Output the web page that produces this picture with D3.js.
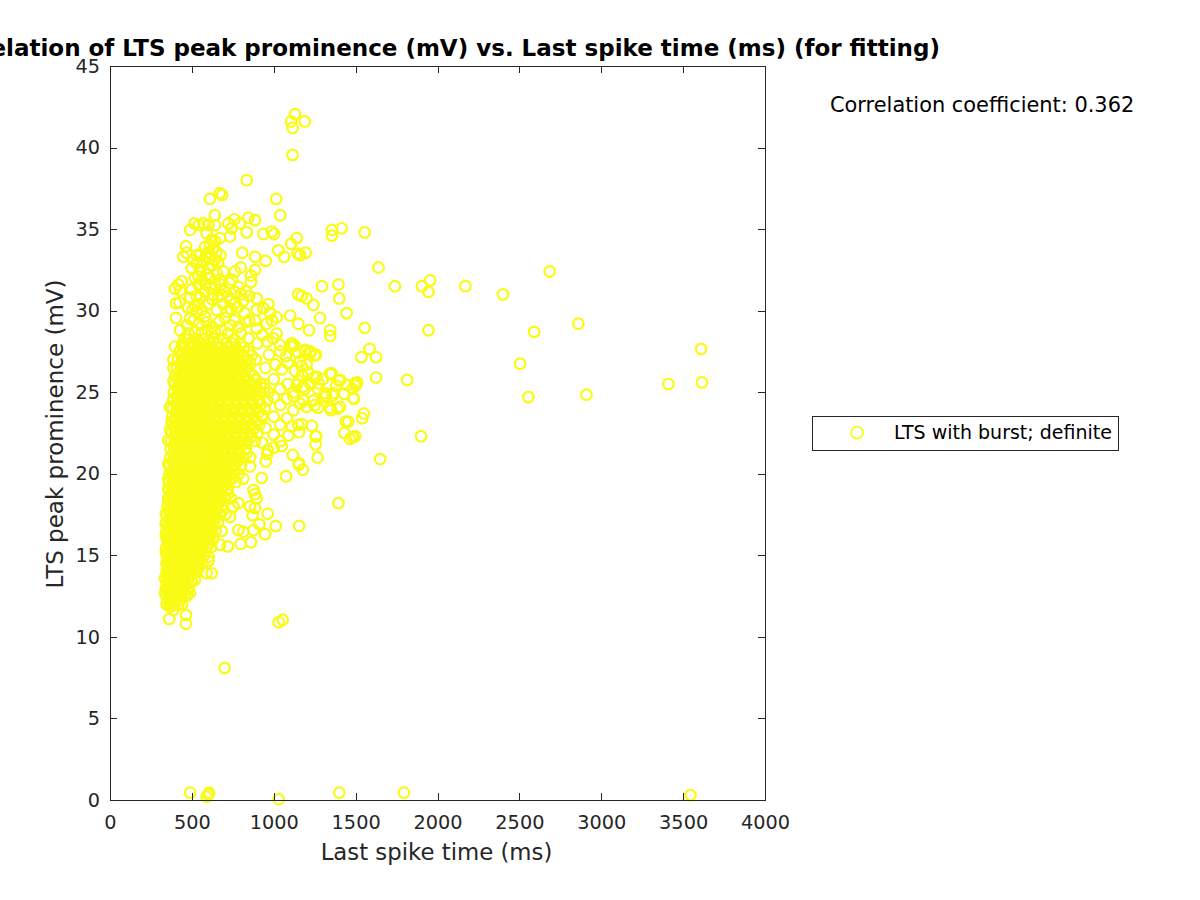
<!DOCTYPE html>
<html><head><meta charset="utf-8">
<script src="https://cdn.jsdelivr.net/npm/d3@7/dist/d3.min.js"></script>
<style>html,body{margin:0;padding:0;background:#fff}svg{display:block}text{font-family:"DejaVu Sans",sans-serif}</style>
</head><body><div id="chart"></div>
<script>
const titleText = "Correlation of LTS peak prominence (mV) vs. Last spike time (ms) (for fitting)";
const xLabel = "Last spike time (ms)";
const yLabel = "LTS peak prominence (mV)";
const corrText = "Correlation coefficient: 0.362";
const legendText = "LTS with burst; definite";
const xTicks = [0,500,1000,1500,2000,2500,3000,3500,4000];
const yTicks = [0,5,10,15,20,25,30,35,40,45];

const baselinePoints = [[490,.45],[590,.2],[600,.35],[605,.45],[1030,.05],[1400,.45],[1795,.45],[3545,.3],[700,8.1],[1030,10.9],[1055,11.05]];
const farPoints = [[3610,27.65],[3615,25.6],[3410,25.5],[2910,24.85],[2860,29.2],[2685,32.4],[2590,28.7],[2555,24.7],[2505,26.75],[2400,31],[2170,31.5],[1955,31.85],[1905,31.5],[1945,31.15],[1945,28.8],[1900,22.3],[1815,25.75],[1740,31.5],[1640,32.65],[1625,27.15],[1585,27.65],[1625,25.9],[1650,20.9],[1555,34.8],[1415,35.05],[1355,34.95],[1355,34.6],[1395,31.6],[1400,30.75],[1295,31.5],[1445,29.85],[1555,28.95],[1345,28.8],[1345,28.45],[1535,27.15],[1395,18.2],[1155,16.8]];
const topPoints = [[1130,42.05],[1105,41.6],[1190,41.6],[1115,41.2],[1115,39.55],[835,38],[1015,36.85],[610,36.85],[670,37.2],[685,37.1],[1040,35.85],[640,35.85],
[515,35.35],[544,35.25],[570,35.35],[601,35.25],[641,35.25],[489,34.95],[723,35.35],[760,35.6],[794,35.35],[743,35.05],[845,35.7],[886,35.55],[835,34.8],[733,34.55],[672,34.45],[590,34.75],[621,34.35],[937,34.7],[988,34.85],[1002,34.7],[1140,34.45],[1106,34.1],[1028,33.7],[1063,33.3],[1146,33.5],[1161,33.4],[1195,33.55],
[641,34.25],[631,33.8],[601,33.6],[464,33.95],[468,33.55],[448,33.3],[550,33.4],[611,33.2],[570,33],[529,32.9],[499,32.6],[550,32.5],[519,32],[808,33.55],[886,33.3],[951,33.05],[798,32.65],[764,32.4],[886,32.5],[861,32.15],[861,31.75],[692,32.4],[652,32.3],[611,32],[672,31.9],[641,31.6],[784,31.45],[764,31.15],[438,31.8],[417,31.6],[397,31.35],[428,31.25],[403,30.45],[424,30.5],[529,30.9],[550,30.8],[580,31.15],[662,30.85],[682,30.95],[896,30.75],[814,30.6],[764,30.45],[967,30.4],[1150,31],[1171,30.9],[1201,30.75],[1242,30.35],[1283,29.55],[1100,29.7],[1150,29.2],[1216,28.8]];
const shoulderPoints = [[470,29.1],[510,29.4],[545,29.2],[590,29.3],[625,29.0],[665,29.3],[735,29.1],[760,29.4],[520,30.3],[540,30.4],[600,30.4],[625,30.7],[690,30.4],[735,30.6],[610,31.4],[630,31],[700,31.2],[720,30.9],[540,31.6],[560,31.9],[585,31.6],[500,31.3],[490,30.8],[505,30.1],[530,29.9],[475,30.2],[600,32.6],[625,32.8],[585,33.3],[640,33.1],[660,33],[530,33.4],[510,33.1],[580,33.9],[610,34.0],[650,33.6],[540,32.1],[675,33.4],[590,32.2],[680,31.6],[730,31.7],[745,31.9],[800,31],[830,31.2],[850,30.9],[780,30.2],[740,30.1],[850,29.4],[830,29.3],[800,28.6],[845,28.3],[720,28.6],[680,28.8],[640,28.7],[600,28.8],[560,28.6],[520,28.7],[480,28.6],[455,28.3],[440,27.9]];
const upperFringe = [[489,29.5],[403,29.55],[560,30.05],[580,29.65],[652,30.05],[713,29.95],[703,29.55],[821,29.85],[896,30.05],[937,30.15],[977,29.85],[1018,29.6],[886,29.4],[896,28.9],[957,29.2],[784,29],[428,28.8],[397,27.8],[387,27],[387,26.5],[387,25.7],[387,24.6],[367,24.1],[1018,28.6],[998,28.3],[1038,27.9],[1110,28],[1120,27.85],[1191,27.6],[1222,27.5],[1258,27.3],[1161,26.9],[1201,26.7],[1171,26.05],[1262,25.95],[1273,25.55],[1344,26.15],[1354,26.15],[1405,25.75],[1446,25.45],[1497,25.55],[1510,25.6],[1140,25.45],[1181,25.35],[1486,24.65],[1313,24.95],[1364,24.95],[1242,24.5],[1181,24.5],[1120,24.75],[1405,24.1],[1344,24.05]];
const lowerFringe = [[371,24.1],[1456,23.2],[1431,22.5],[1466,22.15],[1497,22.3],[1482,22.25],[1232,22.95],[1256,22.3],[1256,21.8],[1268,21],[1171,23.05],[1154,22.55],[1089,22.35],[1049,21.7],[1116,21.15],[1154,20.65],[1154,20.55],[1177,20.25],[1075,19.85],[951,20.75],[926,19.75],[963,21.45],[855,20.45],[814,19.7],[876,19],[896,18.5],[886,18.75],[855,18],[886,17.9],[871,17.45],[963,17.55],[912,16.9],[1012,16.8],[876,16.55],[947,16.3],[784,16.55],[814,16.45],[861,15.8],[798,15.7],[719,15.55],[672,15.65],[682,16.5],[733,17.35],[784,18.2],[753,18],[601,14.9],[601,14.65],[590,13.9],[621,13.9],[519,13.5],[499,13.4],[540,14.2],[489,12.7],[472,12.55],[464,11.35],[464,10.8],[362,11.1],[387,11.65],[346,12],[367,11.85],[335,13.6],[335,12.7],[346,14.5],[340,15.3],[340,16.25],[340,16.95],[340,17.55],[356,20.6],[356,22.05],[367,22.7],[377,23.2],[356,19.1],[356,19.7],[356,18.4]];
const midPoints = [[1040,27.5],[1075,27.2],[1105,27.8],[1125,27.9],[1150,27.4],[1190,27.5],[1225,27.4],[1250,27.25],[1010,26.7],[1050,26.4],[1085,26.8],[1130,26.3],[1170,26.6],[1210,26.2],[1245,25.9],[1270,25.2],[1225,25.5],[1000,25.8],[1040,25.2],[1085,25.5],[1120,25],[1150,25.7],[1190,25.2],[1000,24.7],[1040,24.2],[1080,24.6],[1120,23.9],[1160,24.3],[1200,24.1],[1250,24.2],[1270,24.05],[1000,23.5],[1040,23],[1080,23.4],[1110,22.9],[1150,23],[1000,22.4],[1040,22],[1000,21.6],[950,26.5],[970,27.3],[940,25.5],[960,24.5],[930,23.6],[950,22.8],[930,21.9],[960,21.2],[900,28],[930,28.5],[960,28.1],[990,29.4],[1350,26.1],[1380,25.4],[1360,24.8],[1390,24],[1350,23.9],[1310,24.7],[1300,25.8],[1430,24.9],[1480,25.2],[1500,25.4],[1540,23.4],[1550,23.7],[1490,24.6],[1440,23.2],[1260,22.3],[1400,25.7],[1320,24.8]];

const coreProminence = [12,12.5,13,13.5,14,14.5,15,15.5,16,16.5,17,17.5,18,18.5,19,19.5,20,20.5,21,21.5,22,22.5,23,23.5,24,24.5,25,25.5,26,26.5,27,27.5,28];
const coreTimes = [
[350,372,395,418,440],
[345,368,390,412,436,458],
[342,365,388,410,433,455,478],
[340,362,385,408,431,454,476,498],
[345,367,390,414,437,460,483,507,530],
[348,372,396,420,444,468,492,515,540,565],
[346,370,395,420,445,470,495,520,548,575],
[345,372,398,425,452,478,505,532,560,590,618],
[348,374,402,430,458,486,514,542,570,600,630],
[345,373,402,431,460,490,520,550,580,612,645],
[350,380,410,440,470,500,530,560,592,625,660],
[346,376,408,440,472,504,536,568,600,634,670,706],
[352,384,416,448,480,512,544,578,612,648,685],
[356,388,420,454,488,522,556,590,626,662,700,738],
[358,392,426,460,494,530,566,602,640,678,718],
[360,395,430,466,502,538,574,610,648,688,728,770],
[362,398,434,470,506,544,582,620,660,700,742,785],
[365,402,440,478,516,554,592,632,672,714,756,800],
[368,405,444,482,520,560,600,640,682,724,768,812,856],
[370,410,450,490,530,570,610,652,694,738,782,828],
[373,412,452,492,532,574,616,658,702,746,792,838,885],
[375,416,458,500,542,584,626,670,714,760,806,852,900],
[378,420,462,504,546,590,634,678,724,770,816,864,912],
[380,424,468,512,556,600,646,692,738,784,832,880,930],
[384,428,472,518,564,610,656,702,750,798,846,896,945],
[386,432,478,524,570,618,666,714,762,810,860,910],
[390,436,482,528,574,622,670,718,766,814,864,916,968],
[395,440,486,532,578,626,674,722,770,818,868,920],
[400,446,492,538,584,632,680,728,776,826,876],
[408,452,498,544,590,638,686,734,782,832],
[415,458,502,548,594,642,690,738,786,840,890],
[425,468,512,556,600,646,692,740,790,846],
[450,505,550,612,655,710,744,796]
];
const offsetProminence = [12.25,12.75,13.25,13.75,14.25,14.75,15.25,15.75,16.25,16.75,17.25,17.75,18.25,18.75,19.25,19.75,20.25,20.75,21.25,21.75,22.25,22.75,23.25,23.75,24.25,24.75,25.25,25.75,26.25,26.75,27.25,27.75,28.25];
const offsetTimes = [
[358,382,405,428],
[355,378,400,424,447],
[352,375,398,420,444,466],
[350,374,396,420,442,465,488],
[355,378,402,426,448,472,495,518],
[358,384,408,432,456,480,504,528,552],
[357,382,408,432,458,482,508,534,562],
[358,385,412,438,465,492,518,546,575,604],
[360,388,416,444,472,500,528,556,585,615],
[358,388,416,446,475,505,535,565,596,628],
[364,395,425,455,485,515,545,576,608,642],
[362,392,424,456,488,520,552,584,617,652,688],
[368,400,432,464,496,528,561,595,630,666],
[372,404,437,471,505,539,573,608,644,681,719],
[375,409,443,477,512,548,584,621,659,698],
[378,412,448,484,520,556,592,629,668,708,749],
[380,416,452,488,525,563,601,640,680,721,763],
[384,421,459,497,535,573,612,652,693,735,778],
[386,424,463,501,540,580,620,661,703,746,790,834],
[390,430,470,510,550,590,631,673,716,760,805],
[392,432,472,512,553,595,637,680,724,769,815,861],
[396,437,479,521,563,605,648,692,737,783,829,876],
[399,441,483,525,568,612,656,701,747,793,840,888],
[402,446,490,534,578,623,669,715,761,808,856,905],
[406,450,495,541,587,633,679,726,774,822,871,920],
[409,455,500,546,594,642,690,738,786,835,885],
[413,459,505,551,598,646,694,742,790,839,890,942],
[418,463,509,555,602,650,698,746,794,843,894],
[424,469,515,561,608,656,704,752,801,851],
[430,475,520,567,614,662,710,758,807,856],
[437,480,525,572,618,666,715,762,813,865],
[448,490,534,578,623,669,716,765,818],
[475,530,575,632,690,760]
];
const corePoints = coreProminence.flatMap((p,i)=>coreTimes[i].map(t=>[t,p]));
const offsetPoints = offsetProminence.flatMap((p,i)=>offsetTimes[i].map(t=>[t,p]));
const allPoints = [...baselinePoints,...farPoints,...topPoints,...shoulderPoints,...upperFringe,...lowerFringe,...midPoints,...corePoints,...offsetPoints];

const W=1200,H=900,L=110,R=765,T=66,B=800;
const ink="#262626", mark="#f9fb15";
const svg=d3.select("#chart").append("svg").attr("width",W).attr("height",H);
const x=d3.scaleLinear().domain([0,4000]).range([L,R]);
const y=d3.scaleLinear().domain([0,45]).range([B,T]);

svg.append("g").selectAll("circle").data(allPoints).join("circle")
 .attr("cx",d=>x(d[0])).attr("cy",d=>y(d[1])).attr("r",5.3)
 .attr("fill","none").attr("stroke",mark).attr("stroke-width",2.2);

function styleAxis(g){
 g.selectAll("path").attr("stroke",ink).attr("stroke-width",1).attr("shape-rendering","crispEdges");
 g.selectAll("line").attr("stroke",ink).attr("stroke-width",1).attr("shape-rendering","crispEdges");
 g.selectAll("text").attr("fill",ink).style("font-size","19.3px").style("font-family",'"DejaVu Sans",sans-serif');
}
const gx=svg.append("g").attr("transform",`translate(0,${B})`).call(d3.axisBottom(x).tickValues(xTicks).tickFormat(d3.format("d")).tickSizeInner(-7).tickSizeOuter(0).tickPadding(14));
gx.call(styleAxis); gx.selectAll("text").attr("dy","0.71em").attr("y",15);
const gy=svg.append("g").attr("transform",`translate(${L},0)`).call(d3.axisLeft(y).tickValues(yTicks).tickFormat(d3.format("d")).tickSizeInner(-7).tickSizeOuter(0).tickPadding(10));
gy.call(styleAxis); 
svg.append("g").attr("transform",`translate(0,${T})`).call(d3.axisTop(x).tickValues(xTicks).tickSizeInner(-7).tickSizeOuter(0).tickFormat("")).call(styleAxis);
svg.append("g").attr("transform",`translate(${R},0)`).call(d3.axisRight(y).tickValues(yTicks).tickSizeInner(-7).tickSizeOuter(0).tickFormat("")).call(styleAxis);

svg.append("text").attr("x",(L+R)/2).attr("y",56).attr("text-anchor","middle").attr("fill","#000").style("font-weight","bold").style("font-size","23px").text(titleText);
svg.append("text").attr("x",(L+R)/2-1).attr("y",860).attr("text-anchor","middle").attr("fill",ink).style("font-size","22.8px").text(xLabel);
svg.append("text").attr("transform",`translate(63,${(T+B)/2+1}) rotate(-90)`).attr("text-anchor","middle").attr("fill",ink).style("font-size","23px").text(yLabel);
svg.append("text").attr("x",830).attr("y",112).attr("fill","#000").style("font-size","20.9px").text(corrText);

svg.append("rect").attr("x",812.5).attr("y",416.5).attr("width",306).attr("height",34).attr("fill","#fff").attr("stroke",ink).attr("stroke-width",1);
svg.append("circle").attr("cx",857).attr("cy",432.7).attr("r",6).attr("fill","none").attr("stroke",mark).attr("stroke-width",1.8);
svg.append("text").attr("x",894).attr("y",439).attr("fill","#000").style("font-size","19px").text(legendText);
</script></body></html>
